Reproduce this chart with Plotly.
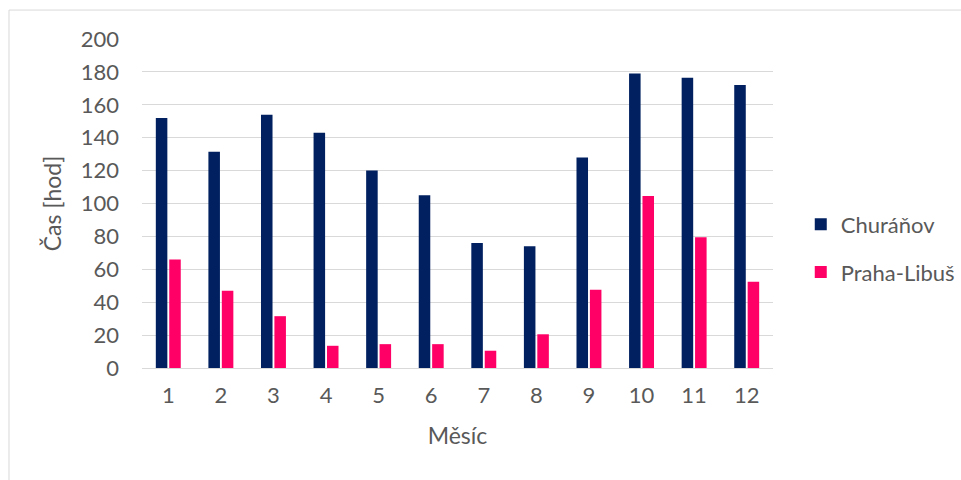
import plotly.graph_objects as go

# Monthly hours per station
months = [str(m) for m in range(1, 13)]
churanov = [152, 131.5, 154, 143, 120, 105, 76, 74, 128, 179, 176.5, 172]
praha_libus = [66, 47, 31.5, 13.5, 14.5, 14.5, 10.5, 20.5, 47.5, 104.5, 79.5, 52.5]

y_ticks = list(range(0, 201, 20))

text_color = "#595959"
grid_color = "#d9d9d9"
font_family = "Lato, 'Open Sans', 'Noto Sans', sans-serif"

fig = go.Figure()
fig.add_trace(go.Bar(x=months, y=churanov, name="Churáňov",
                     marker=dict(color="#002060", line=dict(width=0)),
                     legendgroup="a"))
fig.add_trace(go.Bar(x=months, y=praha_libus, name="Praha-Libuš",
                     marker=dict(color="#ff0066", line=dict(width=0)),
                     legendgroup="b"))

fig.update_layout(
    width=961, height=480,
    margin=dict(l=142, r=188, t=39, b=112, autoexpand=False),
    paper_bgcolor="white", plot_bgcolor="white",
    font=dict(family=font_family, size=22, color=text_color),
    barmode="group", bargap=0.49, bargroupgap=0.14,
    legend=dict(x=1.044, y=0.363, xanchor="left", yanchor="middle",
                traceorder="grouped", tracegroupgap=16, itemwidth=30,
                bgcolor="rgba(0,0,0,0)",
                font=dict(size=22, color=text_color)),
    shapes=[dict(type="rect", xref="paper", yref="paper",
                 x0=-0.2108, x1=1.31, y0=-0.36, y1=1.088,
                 line=dict(color=grid_color, width=1), layer="below")],
)

fig.update_xaxes(
    type="category", showgrid=False, showline=False, zeroline=False,
    ticks="", ticklabelstandoff=12,
    title=dict(text="Měsíc", standoff=20, font=dict(size=23, color=text_color)),
)
fig.update_yaxes(
    range=[0, 200], tickvals=y_ticks, showgrid=True, gridcolor=grid_color,
    gridwidth=1.3, zeroline=True, zerolinecolor=grid_color, zerolinewidth=1.3,
    showline=False, ticks="", ticklabelstandoff=22,
    title=dict(text="Čas [hod]", standoff=12, font=dict(size=23, color=text_color)),
)

fig.write_html("out.html")
